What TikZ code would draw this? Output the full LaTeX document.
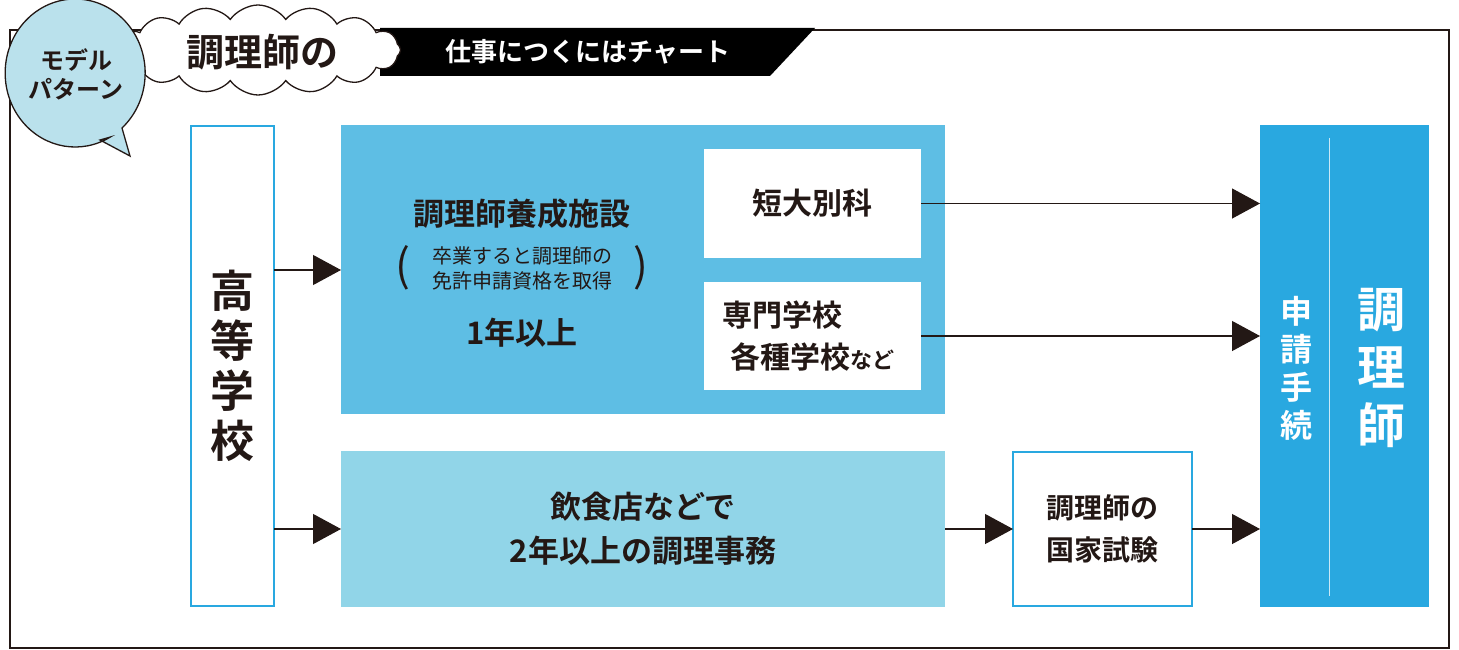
\documentclass[tikz,border=0pt]{standalone}
\usepackage{fontspec}
\setmainfont{Noto Sans CJK JP}[BoldFont={* Bold}]
\usetikzlibrary{arrows.meta,shapes.symbols}
\definecolor{cblue}{RGB}{41,168,224}
\definecolor{cmid}{RGB}{94,190,228}
\definecolor{clight}{RGB}{145,213,232}
\definecolor{cbubble}{RGB}{186,225,236}
\definecolor{cink}{RGB}{35,24,21}
\tikzset{
  flow/.style={draw=cink,line width=1.2pt,-{Triangle[length=28pt,width=30pt]}},
  whitebox/.style={draw=cblue,line width=1.2pt,fill=white,inner sep=0pt},
  txt/.style={font=\bfseries,text=cink,align=center,inner sep=0pt}
}
\begin{document}
\begin{tikzpicture}[y=1pt,x=1pt,yscale=-1, inner sep=0pt, outer sep=0pt]
  \useasboundingbox (0,0) rectangle (1459,650);
  % frame and title
  \path[draw=cink,line width=1.5pt] (10,30) rectangle (1449,648);
  \path[fill=black] (380,28) -- (815,28) -- (770,76) -- (380,76) -- cycle;
  \node[txt,text=white,font=\bfseries\fontsize{26}{30}\selectfont] (subtitle) at (588,52) {仕事につくにはチャート};
  \node[cloud,cloud puffs=16,cloud puff arc=110,aspect=3.3,draw=cink,fill=white,line width=1.3pt,
    minimum width=285,minimum height=90] (cloudhead) at (258,50) {};
  \node[txt,font=\bfseries\fontsize{38}{40}\selectfont] (title) at (262,52) {調理師の};
  \path[draw=cink,fill=cbubble,line width=1.3pt] (100,140) -- (130,156) -- (122,128)
    arc[start angle=48,end angle=-300,x radius=70,y radius=74] -- cycle;
  \node[txt,font=\bfseries\fontsize{24}{29}\selectfont] (model) at (76,74) {モデル\\パターン};

  % boxes
  \node[whitebox,minimum width=83,minimum height=480,anchor=north west,
    txt,font=\bfseries\fontsize{44}{50}\selectfont] (school) at (191,126) {高\\等\\学\\校};
  \path[fill=cmid] (341,125) rectangle (945,414);
  \coordinate (cook) at (341,270);
  \node[txt,font=\bfseries\fontsize{31}{36}\selectfont] (facility) at (522,214) {調理師養成施設};
  \node[txt,font=\fontsize{20}{25}\selectfont] (license) at (522,268) {卒業すると調理師の\\免許申請資格を取得};
  \node[txt,font=\fontsize{44}{44}\selectfont] (lparen) at (403,268) {(};
  \node[txt,font=\fontsize{44}{44}\selectfont] (rparen) at (641,268) {)};
  \node[txt,font=\bfseries\fontsize{31}{36}\selectfont] (oneyear) at (522,333) {1年以上};
  \node[fill=white,minimum width=217,minimum height=109,anchor=north west,
    txt,font=\bfseries\fontsize{30}{36}\selectfont] (tandai) at (704,149) {短大別科};
  \node[fill=white,minimum width=217,minimum height=108,anchor=north west,
    txt,font=\bfseries\fontsize{30}{42}\selectfont] (senmon) at (704,282)
    {専門学校\phantom{など}\\各種学校{\fontsize{22}{22}\selectfont など}};
  \node[fill=clight,minimum width=604,minimum height=156,anchor=north west,
    txt,font=\bfseries\fontsize{31}{44}\selectfont] (work) at (341,451) {飲食店などで\\2年以上の調理事務};
  \node[whitebox,minimum width=179,minimum height=154,anchor=north west,
    txt,font=\bfseries\fontsize{28}{42}\selectfont] (exam) at (1013,452) {調理師の\\国家試験};
  \node[fill=cblue,minimum width=169,minimum height=482,anchor=north west] (apply) at (1260,125) {};
  \path[draw=white!75!cblue,line width=1pt] (1329,138) -- (1329,596);
  \node[txt,text=white,font=\bfseries\fontsize{32}{38}\selectfont] (procedure) at (1296,368) {申\\請\\手\\続};
  \node[txt,text=white,font=\bfseries\fontsize{48}{58}\selectfont] (cookname) at (1381,368) {調\\理\\師};

  % arrows
  \draw[flow] (school.east |- cook) -- (cook);
  \draw[flow] (school.east |- work.west) -- (work.west);
  \draw[flow] (tandai.east) -- (tandai.east -| apply.west);
  \draw[flow] (senmon.east) -- (senmon.east -| apply.west);
  \draw[flow] (work.east) -- (exam.west);
  \draw[flow] (exam.east) -- (exam.east -| apply.west);
\end{tikzpicture}
\end{document}
